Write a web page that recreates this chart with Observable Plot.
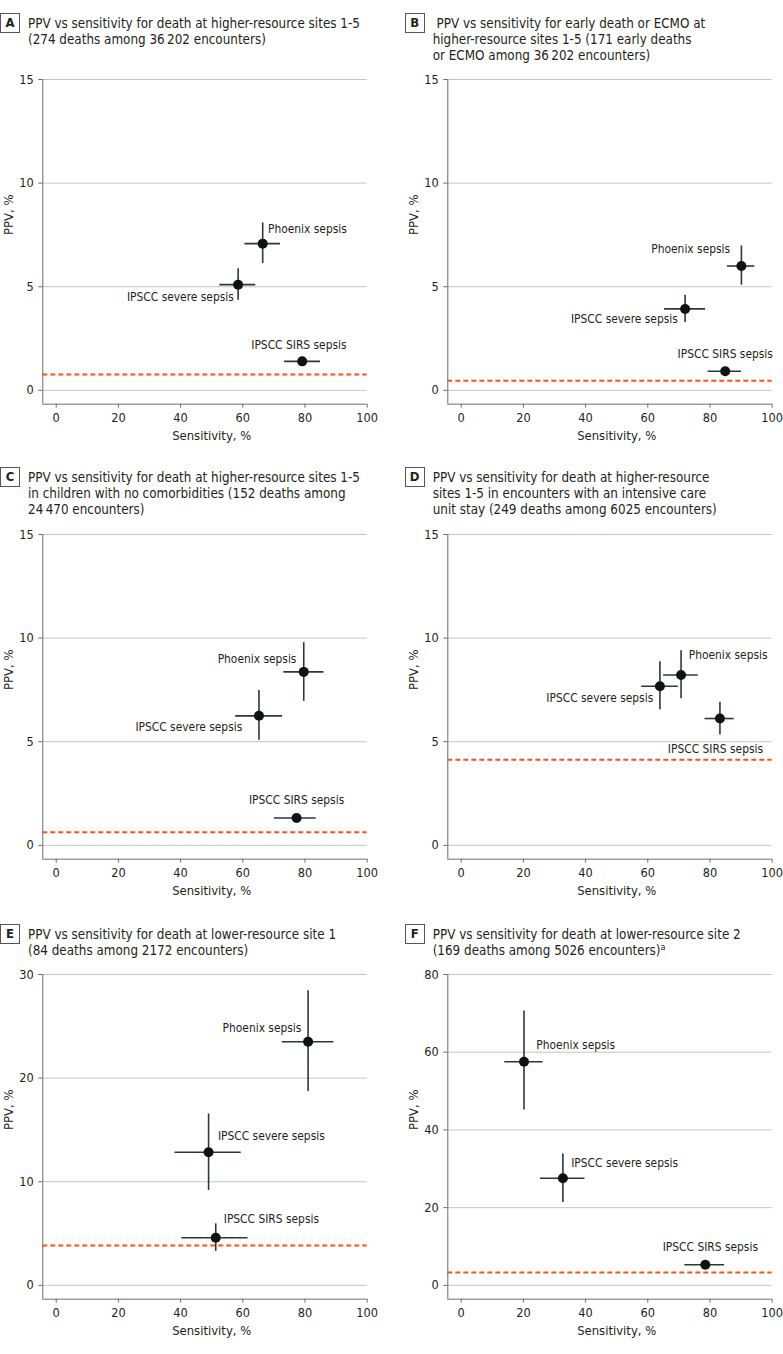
<!DOCTYPE html>
<html><head><meta charset="utf-8">
<script src="https://cdn.jsdelivr.net/npm/d3@7"></script>
<script src="https://cdn.jsdelivr.net/npm/@observablehq/plot@0.6"></script>
<style>
body{margin:0;background:#fff;}
#root{position:relative;width:783px;height:1354px;overflow:hidden;font-family:"DejaVu Sans",sans-serif;font-stretch:condensed;color:#231f20;}
.box{position:absolute;width:20px;height:20px;box-sizing:border-box;border:1px solid #555;font-weight:bold;font-size:13px;text-align:center;line-height:18px;}
.title{position:absolute;line-height:16px;white-space:pre;}
.title sup{font-size:9px;vertical-align:5px;line-height:0;}
.chart{position:absolute;}
#measure{position:absolute;left:0;top:0;visibility:hidden;white-space:pre;font-family:"DejaVu Sans",sans-serif;font-stretch:condensed;font-size:14px;}
</style></head>
<body><span id="measure">PPV vs sensitivity</span><div id="root"></div>
<script>
// ---- data ----
const panelLetters = ["A", "B", "C", "D", "E", "F"];
const panelTitles = [
  "PPV vs sensitivity for death at higher-resource sites 1-5\n(274 deaths among 36\u2009202 encounters)",
  " PPV vs sensitivity for early death or ECMO at\nhigher-resource sites 1-5 (171 early deaths\nor ECMO among 36\u2009202 encounters)",
  "PPV vs sensitivity for death at higher-resource sites 1-5\nin children with no comorbidities (152 deaths among\n24\u2009470 encounters)",
  "PPV vs sensitivity for death at higher-resource\nsites 1-5 in encounters with an intensive care\nunit stay (249 deaths among 6025 encounters)",
  "PPV vs sensitivity for death at lower-resource site 1\n(84 deaths among 2172 encounters)",
  "PPV vs sensitivity for death at lower-resource site 2\n(169 deaths among 5026 encounters)<sup>a</sup>"
];
const criteria = ["Phoenix sepsis", "IPSCC severe sepsis", "IPSCC SIRS sepsis"];
// rows: panels A-F; columns: criteria
const sensitivity     = [[66.4, 58.5, 79.1], [90.1, 72.0, 84.9], [79.6, 65.2, 77.3], [70.7, 63.9, 83.2], [81.0, 49.0, 51.3], [20.2, 32.7, 78.5]];
const sensitivityLow  = [[60.7, 52.6, 73.4], [85.6, 65.4, 79.4], [73.2, 57.7, 70.2], [65.1, 58.0, 78.4], [72.7, 38.2, 40.4], [14.0, 25.5, 71.9]];
const sensitivityHigh = [[72.1, 64.2, 85.0], [94.4, 78.6, 90.1], [86.1, 72.8, 83.6], [76.2, 69.8, 87.8], [89.3, 59.5, 61.7], [26.3, 39.8, 84.7]];
const ppv     = [[7.08, 5.10, 1.40], [6.00, 3.93, 0.92], [8.37, 6.25, 1.32], [8.22, 7.68, 6.12], [23.51, 12.85, 4.59], [57.56, 27.58, 5.31]];
const ppvLow  = [[6.12, 4.35, 1.25], [5.07, 3.27, 0.79], [6.95, 5.07, 1.15], [7.07, 6.54, 5.33], [18.70, 9.16, 3.28], [45.14, 21.33, 4.40]];
const ppvHigh = [[8.08, 5.87, 1.57], [6.97, 4.59, 1.07], [9.78, 7.47, 1.52], [9.39, 8.86, 6.91], [28.43, 16.54, 5.94], [70.58, 33.83, 6.30]];
const prevalence = [0.76, 0.47, 0.63, 4.13, 3.85, 3.34];
const yMaxes = [15, 15, 15, 15, 30, 80];
const yTickValues = [[0, 5, 10, 15], [0, 5, 10, 15], [0, 5, 10, 15], [0, 5, 10, 15], [0, 10, 20, 30], [0, 20, 40, 60, 80]];
const xTickValues = [0, 20, 40, 60, 80, 100];
const xLabel = "Sensitivity, %";
const yLabel = "PPV, %";

// ---- layout / styling (not data) ----
const labelPlacement = [
  [[5.3, -14.3, "start"], [-4.3, 13, "end"], [-3.3, -16, "middle"]],
  [[-11.3, -17.3, "end"], [-7.3, 10.7, "end"], [0, -16.7, "middle"]],
  [[-7.3, -12.7, "end"], [-16.7, 11, "end"], [0, -18.3, "middle"]],
  [[7.7, -20, "start"], [-6.7, 12.3, "end"], [-4.5, 31, "middle"]],
  [[-6.7, -13.3, "end"], [9.3, -16.3, "start"], [8, -18.7, "start"]],
  [[12.3, -16.7, "start"], [8.3, -15, "start"], [5, -17.3, "middle"]]
];
const colLeft = [0, 404.7];
const rowTitleTop = [16, 470.3, 927];
const rowFrameTop = [79.3, 533.7, 974.3];
const innerW = 324.4, innerH = 324.7;
const mL = 42.3, mR = 11, mT = 12, mB = 46;
const xMin = -4.31;

// font sizes fitted (at the actual size, iteratively) so text widths match the reference
const meas = document.getElementById("measure");
function widthAt(s, size) { meas.style.fontSize = size + "px"; meas.textContent = s; return meas.getBoundingClientRect().width; }
widthAt("warm up 0123456789", 14);
function fit(s, target) {
  let size = 13;
  for (let k = 0; k < 5; k++) size *= target / widthAt(s, size);
  return size;
}
const annSize = (fit("Phoenix sepsis", 79) + fit("IPSCC severe sepsis", 107) + fit("IPSCC SIRS sepsis", 95)) / 3;
const titleSize = fit("PPV vs sensitivity for death at higher-resource sites 1-5", 332);
const tickSize = fit("100", 21.7);
const axisTitleSize = fit("Sensitivity, %", 79);

const root = document.getElementById("root");

panelLetters.forEach((letter, p) => {
  const col = p % 2, row = Math.floor(p / 2);
  const left = colLeft[col];
  const box = document.createElement("div");
  box.className = "box";
  box.textContent = letter;
  box.style.left = left + "px";
  box.style.top = (rowTitleTop[row] - 3) + "px";
  root.appendChild(box);
  const t = document.createElement("div");
  t.className = "title";
  t.innerHTML = panelTitles[p];
  t.style.fontSize = titleSize + "px";
  t.style.left = (left + 28) + "px";
  t.style.top = rowTitleTop[row] + "px";
  root.appendChild(t);

  const yMax = yMaxes[p];
  const yMin = -yMax * (13.8 / 310.7);
  const rows = criteria.map((c, i) => ({
    name: c, x: sensitivity[p][i], x1: sensitivityLow[p][i], x2: sensitivityHigh[p][i],
    y: ppv[p][i], y1: ppvLow[p][i], y2: ppvHigh[p][i]
  }));

  const labelMarks = rows.map((r, i) => {
    const [dx, dy, anchor] = labelPlacement[p][i];
    return Plot.text([r], {x: "x", y: "y", text: "name", dx, dy, textAnchor: anchor, fill: "#231f20", fontSize: annSize});
  });

  const chart = Plot.plot({
    width: mL + innerW + mR,
    height: mT + innerH + mB,
    marginLeft: mL, marginRight: mR, marginTop: mT, marginBottom: mB,
    style: {fontFamily: '"DejaVu Sans",sans-serif', fontSize: tickSize + "px", color: "#231f20", background: "transparent", overflow: "visible"},
    x: {domain: [xMin, 100], axis: null},
    y: {domain: [yMin, yMax], axis: null},
    marks: [
      Plot.gridY(yTickValues[p], {stroke: "#c4c4c4", strokeOpacity: 1, strokeWidth: 1}),
      Plot.ruleY([prevalence[p]], {stroke: "#ff4f1a", strokeWidth: 2, strokeDasharray: "5,3"}),
      Plot.ruleX([xMin], {stroke: "#6b6b6b", strokeWidth: 1}),
      Plot.ruleY([yMin], {stroke: "#6b6b6b", strokeWidth: 1}),
      Plot.axisX({ticks: xTickValues, tickSize: 4, tickPadding: 5, stroke: "#6b6b6b", label: null, fontSize: tickSize, tickFormat: d => String(d)}),
      Plot.axisY({ticks: yTickValues[p], tickSize: 4, tickPadding: 5, stroke: "#6b6b6b", label: null, fontSize: tickSize, tickFormat: d => String(d)}),
      Plot.ruleY(rows, {y: "y", x1: "x1", x2: "x2", stroke: "#2b3838", strokeWidth: 1.6}),
      Plot.ruleX(rows, {x: "x", y1: "y1", y2: "y2", stroke: "#2b3838", strokeWidth: 1.6}),
      Plot.dot(rows, {x: "x", y: "y", r: 5, fill: "#0d1212", stroke: "none"}),
      ...labelMarks,
      Plot.text([{x: 50}], {x: "x", text: () => xLabel, frameAnchor: "bottom", dy: 36, fontSize: axisTitleSize, fill: "#231f20"}),
      Plot.text([{y: yMax / 2}], {y: "y", text: () => yLabel, frameAnchor: "left", rotate: -90, dx: -34, fontSize: axisTitleSize, fill: "#231f20"})
    ]
  });
  chart.style.fontStretch = "condensed";
  chart.classList.add("chart");
  chart.style.left = left + "px";
  chart.style.top = (rowFrameTop[row] - mT) + "px";
  root.appendChild(chart);
});
</script>
</body></html>
